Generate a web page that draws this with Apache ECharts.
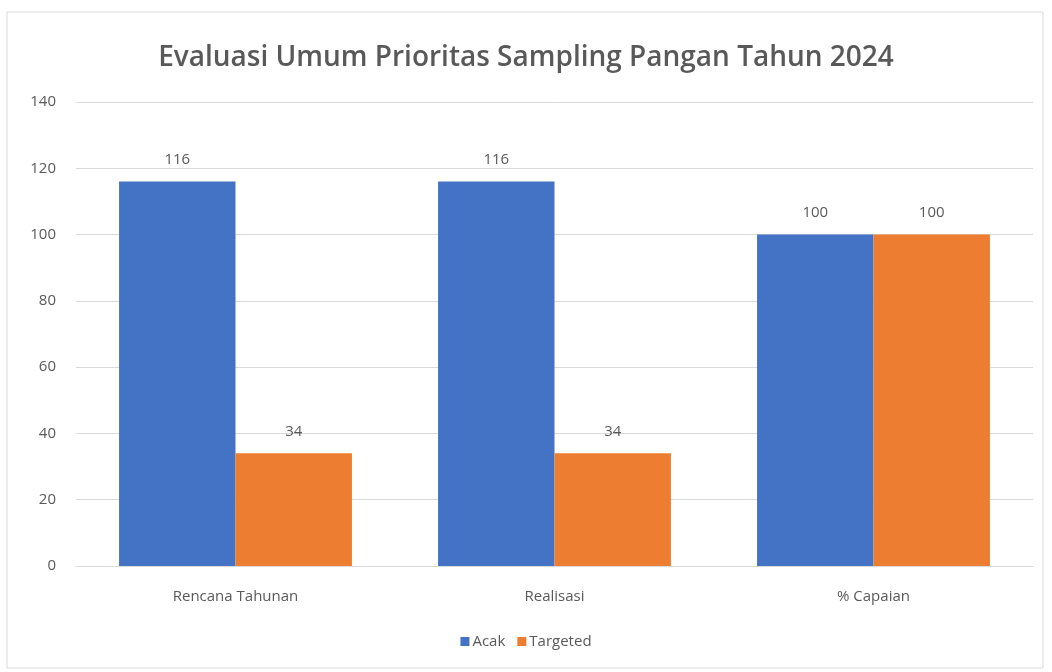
<!DOCTYPE html>
<html>
<head>
<meta charset="utf-8">
<script src="https://cdn.jsdelivr.net/npm/echarts@6/dist/echarts.min.js"></script>
<style>
  html, body { margin: 0; padding: 0; background: #fff; }
  #chart { width: 1052px; height: 672px; }
</style>
</head>
<body>
<div id="chart"></div>
<script>
var categories = ['Rencana Tahunan', 'Realisasi', '% Capaian']
var acak = [116, 116, 100]
var targeted = [34, 34, 100]
var legendNames = ['Acak', 'Targeted']

var font = '"Open Sans", "Noto Sans", sans-serif'
var textGray = '#595959'

var chart = echarts.init(document.getElementById('chart'), null, {renderer: 'canvas'})

var labelStyle = {
  show: true,
  position: 'top',
  distance: 14,
  color: textGray,
  fontSize: 15,
  fontFamily: font
}

chart.setOption({
  backgroundColor: '#fff',
  animation: false,
  graphic: [{
    type: 'rect',
    shape: {x: 7, y: 12, width: 1036, height: 656},
    style: {fill: 'none', stroke: '#d9d9d9', lineWidth: 1},
    silent: true
  }],
  title: {
    text: 'Evaluasi Umum Prioritas Sampling Pangan Tahun 2024',
    left: 'center',
    top: 39,
    textStyle: {
      color: textGray,
      fontSize: 28,
      fontWeight: 600,
      fontFamily: font
    }
  },
  legend: {
    data: legendNames,
    bottom: 18,
    left: 'center',
    itemWidth: 9,
    itemHeight: 9,
    itemGap: 12,
    icon: 'rect',
    textStyle: {color: textGray, fontSize: 15, fontFamily: font, padding: [0, 0, 0, -2]}
  },
  grid: {
    left: 76,
    right: 19,
    top: 102,
    bottom: 106,
    containLabel: false
  },
  xAxis: {
    type: 'category',
    data: categories,
    axisTick: {show: false},
    axisLine: {lineStyle: {color: '#d9d9d9', width: 1}},
    axisLabel: {color: textGray, fontSize: 15, fontFamily: font, margin: 23}
  },
  yAxis: {
    type: 'value',
    min: 0,
    max: 140,
    interval: 20,
    axisLine: {show: false},
    axisTick: {show: false},
    splitLine: {lineStyle: {color: '#d9d9d9', width: 1}},
    axisLabel: {color: textGray, fontSize: 15, fontFamily: font, margin: 20}
  },
  series: [{
    name: legendNames[0],
    type: 'bar',
    data: acak,
    barGap: '0%',
    barCategoryGap: '27%',
    itemStyle: {color: '#4472C4'},
    label: labelStyle
  }, {
    name: legendNames[1],
    type: 'bar',
    data: targeted,
    barGap: '0%',
    barCategoryGap: '27%',
    itemStyle: {color: '#ED7D31'},
    label: labelStyle
  }]
})
</script>
</body>
</html>
